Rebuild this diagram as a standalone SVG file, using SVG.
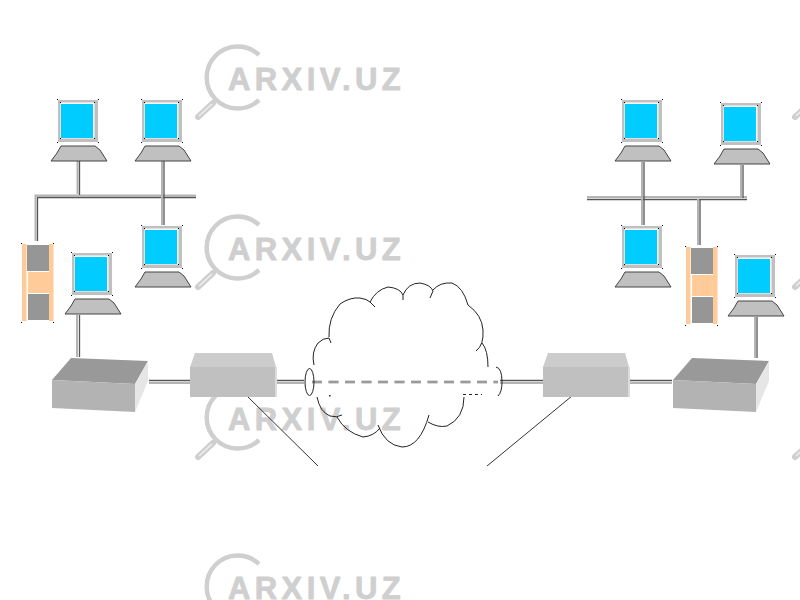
<svg xmlns="http://www.w3.org/2000/svg" xmlns:xlink="http://www.w3.org/1999/xlink" width="800" height="600" viewBox="0 0 800 600">
<style>
.wm-ring{fill:none;stroke:#cfcfcf;stroke-width:4.5}
.wm-grip{fill:none;stroke:#cfcfcf;stroke-width:6;stroke-linecap:round}
.wm-core{fill:none;stroke:#f0f0f0;stroke-width:1.5}
.wm-text{font-family:"Liberation Sans",Arial,sans-serif;font-weight:700;font-size:31px;letter-spacing:4.4px;fill:#cfcfcf;stroke:#cfcfcf;stroke-width:.8;stroke-linejoin:round}
.lite{fill:none;stroke:#b4b4b4;stroke-width:2}
.dark{fill:none;stroke:#555;stroke-width:1.3}
.cloud{fill:none;stroke:#222;stroke-width:1}
.lead{fill:none;stroke:#333;stroke-width:1}
</style>
<defs>
<g id="wm">
<path class="wm-ring" d="M259 55A31 31 0 1 0 259 100"/>
<path class="wm-grip" d="M213 103L198 117"/>
<path class="wm-core" d="M212 104L199 116"/>
<text class="wm-text" x="228" y="90">ARXIV.UZ</text>
</g>
<g id="pc">
<rect x="0" y="0" width="40" height="42" fill="#c0c0c0"/>
<rect x="2.500" y="2.500" width="34" height="36" fill="#fff"/>
<rect x="3" y="4" width="32" height="34" fill="#00ccff"/>
<path d="M3 46H37L42 50L49 61H-7L-1 53Z" fill="#c0c0c0" stroke="#444" stroke-width="1"/>
<path d="M-1 -1h1v1h-1zM40 -1h1v1h-1zM-1 42h1v1h-1zM40 42h1v1h-1zM2 2h1v1h-1zM36 2h1v1h-1zM2 38h1v1h-1zM36 38h1v1h-1z" fill="#000"/>
</g>
<g id="gate">
<rect x="0" y="0" width="4.500" height="77" fill="#ffcc99"/>
<rect x="27" y="0" width="4.500" height="77" fill="#ffcc99"/>
<rect x="5" y="1" width="22" height="26" fill="#969696"/>
<rect x="6" y="28" width="21" height="21" fill="#ffcc99"/>
<rect x="6" y="50" width="21" height="26" fill="#969696"/>
<path d="M-1 -1h1v1h-1zM31 -1h1v1h-1zM-1 78h1v1h-1zM31 78h1v1h-1z" fill="#000"/>
</g>
<g id="router">
<path d="M5 0H82L86 14H0Z" fill="#cccccc"/>
<rect x="0" y="14" width="86" height="30" fill="#c0c0c0"/>
<rect x="85" y="14" width="2" height="30" fill="#dcdcdc"/>
</g>
<g id="switch">
<path d="M0 22L19 0L96 3L83 26Z" fill="#999999"/>
<path d="M0 22L83 26V54L0 50Z" fill="#b3b3b3"/>
<path d="M83 26L96 3V23L83 54Z" fill="#e6e6e6"/>
</g>
</defs>

<!-- background marks -->
<rect width="800" height="600" fill="#fff"/>
<g id="marks">
<use xlink:href="#wm"/>
<use xlink:href="#wm" y="170"/>
<use xlink:href="#wm" y="340"/>
<use xlink:href="#wm" y="509"/>
<use xlink:href="#wm" x="597"/>
<use xlink:href="#wm" x="597" y="170"/>
<use xlink:href="#wm" x="597" y="340"/>
</g>

<!-- cabling -->
<g id="connectors">
<path class="lite" d="M77.500 161V194M35.500 241V195.500H196"/>
<path class="dark" d="M79.500 161V195M37.500 241V197.500H196"/>
<path class="lite" d="M162 161V225"/>
<path class="dark" d="M164 161V225" stroke-width="1.6"/>
<path class="lite" d="M77 315V357"/>
<path class="dark" d="M79.500 315V357"/>
<path class="lite" d="M587 197H747"/>
<path class="dark" d="M587 199.500H747"/>
<path class="lite" d="M642 162V225M741 165V197M698 199V245"/>
<path class="dark" d="M644 162V225M743 165V198M700 199V245"/>
<path class="lite" d="M755 317V358"/>
<path class="dark" d="M757 317V358"/>
<path class="dark" d="M149 380.500H190M276 380.500H304M500 380.500H543M629 380.500H672"/>
<path class="lite" d="M149 383H190M276 383H304M500 383H543M629 383H672"/>
<path class="lead" d="M247 396L318 466M572 396L487 466"/>
<path d="M312 382H498" fill="none" stroke="#666" stroke-width="2.600" stroke-dasharray="10 6.500"/>
<path d="M312 382H498" fill="none" stroke="#fff" stroke-width="0.7" stroke-dasharray="10 6.500"/>
</g>

<!-- wide-area cloud and its tunnel ends -->
<g id="cloud">
<path class="cloud" d="M314 365Q311 352 318 343Q323 338 329 338L331 343"/>
<path class="cloud" d="M329 337Q328 318 340 304Q350 297 360 298Q367 299 370 302L375 307"/>
<path class="cloud" d="M370 302Q376 290 388 287Q400 288 403 295L403 300"/>
<path class="cloud" d="M403 295Q408 283 420 283Q431 285 433 291L430 298"/>
<path class="cloud" d="M433 290Q440 282 452 283Q463 287 468 305"/>
<path class="cloud" d="M468 305Q482 315 483 330Q484 345 476 351"/>
<path class="cloud" d="M482 343Q488 350 488 367"/>
<path class="cloud" d="M317 397Q320 412 330 416Q337 418 342 415"/>
<path class="cloud" d="M337 417Q345 432 363 437Q374 436 380 428"/>
<path class="cloud" d="M378 425Q385 445 402 447Q420 447 429 415"/>
<path class="cloud" d="M428 422Q438 428 447 426Q464 418 464 397"/>
<path class="cloud" stroke-dasharray="3 3" d="M463 394.500H482"/>
<rect x="329" y="395" width="1.500" height="1.500" fill="#222"/>
<ellipse class="cloud" cx="309.500" cy="382" rx="4.500" ry="13.500"/>
<path class="cloud" d="M496 367Q502 368 502 382Q502 392 498 396"/>
</g>

<g id="pc-1"><use xlink:href="#pc" x="58" y="100"/></g>
<g id="pc-2"><use xlink:href="#pc" x="142" y="100"/></g>
<g id="pc-3"><use xlink:href="#pc" x="142" y="226"/></g>
<g id="pc-4"><use xlink:href="#pc" x="72" y="253"/></g>
<g id="pc-5"><use xlink:href="#pc" x="622" y="100"/></g>
<g id="pc-6"><use xlink:href="#pc" x="721" y="103"/></g>
<g id="pc-7"><use xlink:href="#pc" x="622" y="226"/></g>
<g id="pc-8"><use xlink:href="#pc" x="735" y="255"/></g>
<g id="gate-left"><use xlink:href="#gate" x="22" y="244"/></g>
<g id="gate-right"><use xlink:href="#gate" x="686" y="247"/></g>
<g id="switch-left"><use xlink:href="#switch" x="52" y="358"/></g>
<g id="switch-right"><use xlink:href="#switch" x="673" y="358"/></g>
<g id="router-left"><use xlink:href="#router" x="190" y="353"/></g>
<g id="router-right"><use xlink:href="#router" x="543" y="353"/></g>
</svg>
